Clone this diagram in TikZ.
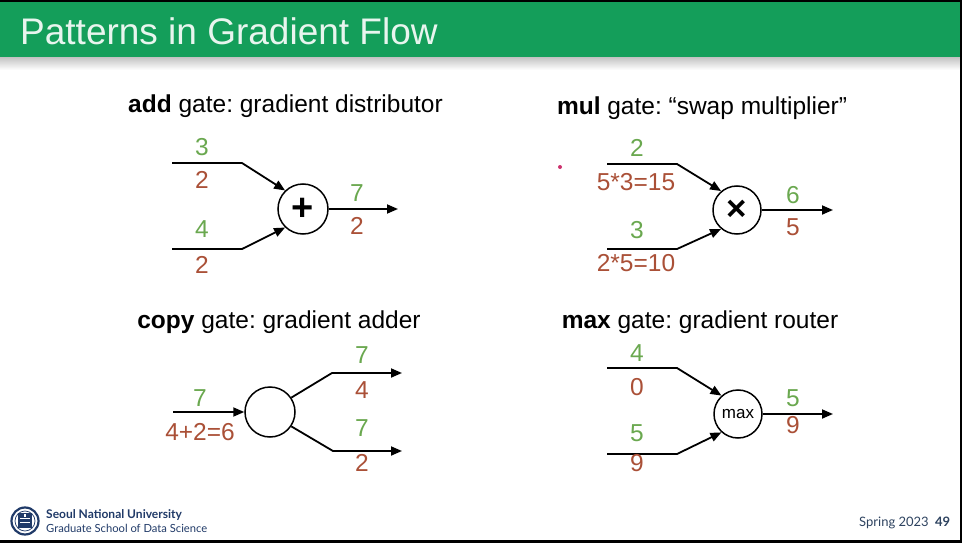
\documentclass[tikz,border=0pt]{standalone}
\usepackage{fontspec}
\setmainfont{Liberation Sans}
\newfontfamily\footfont{Lato}
\usetikzlibrary{arrows.meta}
\frenchspacing
\definecolor{gbar}{RGB}{20,158,90}
\definecolor{gnum}{RGB}{106,168,79}
\definecolor{rnum}{RGB}{170,80,55}
\definecolor{navy}{RGB}{32,58,104}
\definecolor{slate}{RGB}{46,67,96}
\definecolor{dotc}{RGB}{205,50,110}
\tikzset{
  gate/.style={circle,draw,line width=1.5pt,inner sep=0pt},
  arr/.style={line width=1.8pt,-{Triangle[length=11pt,width=9pt]}},
  numlab/.style={inner sep=0pt,text height=17pt,text depth=0pt,font=\fontsize{24.5}{28}\selectfont},
  gn/.style={numlab,text=gnum},
  rn/.style={numlab,text=rnum},
  ttl/.style={anchor=base,inner sep=0pt,font=\fontsize{24.5}{28}\selectfont},
}
\begin{document}
\frenchspacing
\begin{tikzpicture}[x=1pt,y=-1pt]
\fill[white] (0,0) rectangle (962,543);
\useasboundingbox (0,0) rectangle (962,543);
% frame & title bar
\fill[black] (0,0) rectangle (962,2);
\fill[gbar] (0,2) rectangle (962,58);
\shade[top color=black!22,bottom color=white] (0,58) rectangle (962,70);
\fill[black] (960,0) rectangle (962,543);
\fill[black] (0,540) rectangle (962,543);
\node[anchor=base west,inner sep=0pt,text=white!90!gbar] (title) at (20,45)
  {\fontsize{37}{44}\selectfont Patterns in Gradient Flow};

% ---------- add gate ----------
\node[ttl] (addt) at (285.5,113) {\textbf{add} gate: gradient distributor};
\node[gate,minimum size=50pt] (add) at (303,209) {\fontsize{38}{38}\selectfont\bfseries +};
\coordinate (a1s) at (172,163); \coordinate (a1b) at (242,163);
\coordinate (a2s) at (172,249); \coordinate (a2b) at (242,249);
\coordinate (aout) at (398,209);
\draw[arr] (a1s) -- (a1b) -- (add.134);
\draw[arr] (a2s) -- (a2b) -- (add.226);
\draw[arr] (add.east) -- (aout);
\node[gn] (a1g) at (202,147) {3};
\node[rn] (a1r) at (202,180) {2};
\node[gn] (a2g) at (202,229) {4};
\node[rn] (a2r) at (202,265) {2};
\node[gn] (aog) at (357,193) {7};
\node[rn] (aor) at (357,226) {2};

% ---------- mul gate ----------
\node[ttl] (mult) at (702,114) {\textbf{mul} gate: “swap multiplier”};
\fill[dotc] (560,167) circle (2);
\node[gate,minimum size=48pt] (mul) at (737,210) {\fontsize{35}{35}\selectfont\bfseries ×};
\coordinate (m1s) at (607,164); \coordinate (m1b) at (677,164);
\coordinate (m2s) at (607,249); \coordinate (m2b) at (677,249);
\coordinate (mout) at (833,210);
\draw[arr] (m1s) -- (m1b) -- (mul.130);
\draw[arr] (m2s) -- (m2b) -- (mul.230);
\draw[arr] (mul.east) -- (mout);
\node[gn] (m1g) at (637,148) {2};
\node[rn] (m1r) at (636,182) {5*3=15};
\node[gn] (m2g) at (637,230) {3};
\node[rn] (m2r) at (636,263) {2*5=10};
\node[gn] (mog) at (793,195) {6};
\node[rn] (mor) at (793,227) {5};

% ---------- copy gate ----------
\node[ttl] (copyt) at (279,328) {\textbf{copy} gate: gradient adder};
\node[gate,minimum size=50pt] (copy) at (270,412) {};
\coordinate (cin) at (173,412);
\coordinate (c1b) at (332,373); \coordinate (c1e) at (402,373);
\coordinate (c2b) at (333,451); \coordinate (c2e) at (402,451);
\draw[arr] (cin) -- (copy.west);
\draw[arr] (copy.34) -- (c1b) -- (c1e);
\draw[arr] (copy.-34) -- (c2b) -- (c2e);
\node[gn] (cig) at (200,398) {7};
\node[rn] (cir) at (200,432) {4+2=6};
\node[gn] (c1g) at (362,355) {7};
\node[rn] (c1r) at (362,390) {4};
\node[gn] (c2g) at (362,428) {7};
\node[rn] (c2r) at (362,463) {2};

% ---------- max gate ----------
\node[ttl] (maxt) at (700,328) {\textbf{max} gate: gradient router};
\node[gate,minimum size=48pt] (max) at (738,414) {\fontsize{17}{17}\selectfont max};
\coordinate (x1s) at (607,368); \coordinate (x1b) at (677,368);
\coordinate (x2s) at (607,454); \coordinate (x2b) at (677,454);
\coordinate (xout) at (833,414);
\draw[arr] (x1s) -- (x1b) -- (max.132);
\draw[arr] (x2s) -- (x2b) -- (max.228);
\draw[arr] (max.east) -- (xout);
\node[gn] (x1g) at (637,353) {4};
\node[rn] (x1r) at (637,387) {0};
\node[gn] (x2g) at (637,433) {5};
\node[rn] (x2r) at (637,463) {9};
\node[gn] (xog) at (793,398) {5};
\node[rn] (xor) at (793,425) {9};

% ---------- footer ----------
\begin{scope}[navy]
  \draw[line width=2.2pt] (25,521) circle (13.5);
  \draw[line width=0.7pt] (25,521) circle (10);
  \fill (18,513) rectangle (32,528);
  \fill[white] (20,518) rectangle (30,519);
  \fill[white] (20,522) rectangle (30,523);
  \fill[white] (24,514) rectangle (26,517);
\end{scope}
\node[anchor=base west,inner sep=0pt,text=navy] (snu) at (46,518)
  {\footfont\bfseries\fontsize{12}{13}\selectfont Seoul National University};
\node[anchor=base west,inner sep=0pt,text=navy] (gsds) at (46,532)
  {\footfont\fontsize{11.2}{13}\selectfont Graduate School of Data Science};
\node[anchor=base west,inner sep=0pt,text=slate] (spring) at (859,526)
  {\footfont\fontsize{13}{15}\selectfont Spring 2023};
\node[anchor=base west,inner sep=0pt,text=slate] (pg) at (935,526)
  {\footfont\bfseries\fontsize{13}{15}\selectfont 49};
\end{tikzpicture}
\end{document}
